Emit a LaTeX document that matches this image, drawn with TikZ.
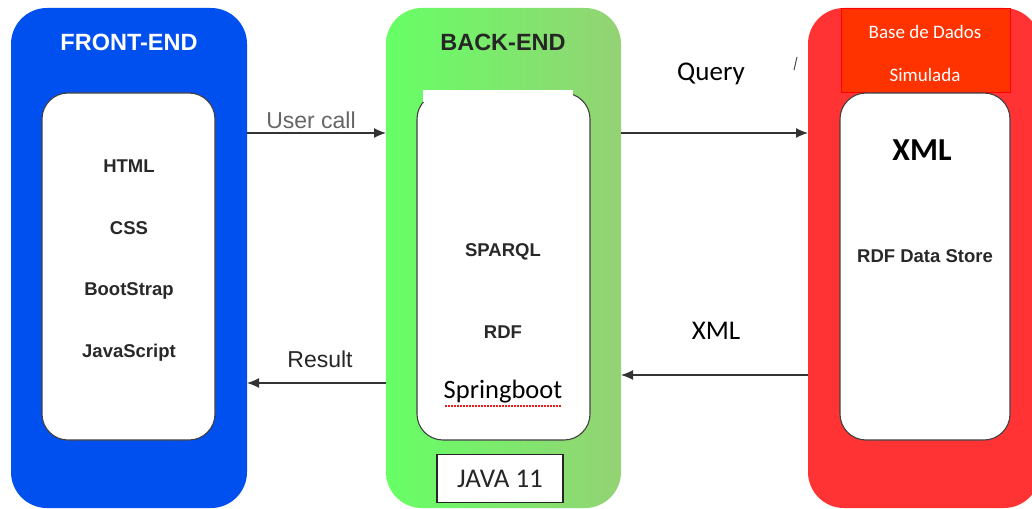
\documentclass[tikz,border=0pt]{standalone}
\usepackage{fontspec}
\setmainfont{Liberation Sans}
\newfontfamily\calib{Carlito}
\usetikzlibrary{arrows.meta}
\definecolor{feblue}{RGB}{0,80,239}
\definecolor{beleft}{RGB}{102,255,102}
\definecolor{beright}{RGB}{148,210,116}
\definecolor{dbred}{RGB}{255,51,51}
\definecolor{dbhead}{RGB}{255,51,0}
\definecolor{txt}{RGB}{40,40,40}
\definecolor{spell}{RGB}{230,30,30}
\tikzset{
  x=1pt, y=-1pt,
  tier/.style={rounded corners=36pt},
  panel/.style={fill=white, draw=black!75, line width=1.1pt, rounded corners=26pt},
  item/.style={font=\fontsize{18.5}{20}\selectfont\bfseries, text=txt},
  flow/.style={-{Latex[length=12pt,width=10pt]}, line width=1.3pt, draw=black!80},
  flowlbl/.style={font=\fontsize{23}{25}\selectfont},
  cal/.style={font=\calib\fontsize{27}{30}\selectfont, text=black}
}
\begin{document}
\begin{tikzpicture}
\useasboundingbox (0,0) rectangle (1032,508);
\fill[white] (0,0) rectangle (1032,508);

% front-end tier
\fill[feblue, tier] (11,8) rectangle (247,508);
\node[font=\fontsize{23.5}{25}\selectfont\bfseries, text=white] (fe) at (129,42) {FRONT-END};
\node[panel, minimum width=173pt, minimum height=347pt] (fep) at (128.5,266.5) {};
\node[item] (html) at (129,166) {HTML};
\node[item] (css) at (129,228) {CSS};
\node[item] (bs) at (129,291) {BootStrap};
\node[item] (js) at (129,353) {JavaScript};

% back-end tier
\shade[left color=beleft, right color=beright, tier] (386,8) rectangle (621,508);
\node[font=\fontsize{23.5}{25}\selectfont\bfseries, text=black!85] (be) at (503,42) {BACK-END};
\node[panel, minimum width=173pt, minimum height=347pt] (bep) at (503.5,266.5) {};
\fill[white] (423,90) rectangle (573,102);
\node[item] (sparql) at (503,252) {SPARQL};
\node[item] (rdf) at (503,332) {RDF};
\node[font=\calib\fontsize{26.5}{28}\selectfont, text=black] (sb) at (503,392) {Springboot};
\draw[spell, dash pattern=on 1.5pt off 1.5pt, line width=1.3pt] (445,406) -- (561,406);
\node[draw=black!85, line width=1.2pt, fill=white, minimum width=126pt, minimum height=48pt,
      font=\calib\fontsize{27}{29}\selectfont, text=black!85] (java) at (500,478.5) {JAVA 11};

% database tier
\fill[dbred, tier] (808,8) rectangle (1040,508);
\node[fill=dbhead, draw=red, line width=1pt, minimum width=169pt, minimum height=84pt] (head) at (925.5,51) {};
\node[font=\calib\fontsize{19}{21}\selectfont, text=white] (hd1) at (925,32) {Base de Dados};
\node[font=\calib\fontsize{19}{21}\selectfont, text=white] (hd2) at (925,75) {Simulada};
\node[panel, minimum width=170pt, minimum height=347pt] (dbp) at (925,266.5) {};
\node[font=\calib\fontsize{32}{34}\selectfont\bfseries, text=black] (xmlb) at (922,150) {XML};
\node[item] (store) at (925,256) {RDF Data Store};

% connectors
\coordinate (c1) at (247,133); \coordinate (c2) at (386,133);
\coordinate (c3) at (621,133); \coordinate (c4) at (808,133);
\coordinate (c5) at (808,375); \coordinate (c6) at (621,375);
\coordinate (c7) at (386,383); \coordinate (c8) at (247,383);
\draw[flow] (c1) -- (c2);
\draw[flow] (c3) -- (c4);
\draw[flow] (c5) -- (c6);
\draw[flow] (c7) -- (c8);
\node[flowlbl, text=black!60] (uc) at (311,120) {User call};
\node[flowlbl, text=black!85] (res) at (320,359) {Result};
\node[cal] (q) at (711,74) {Query};
\node[cal] (xr) at (716,331) {XML};
\draw[black!70, line width=1pt] (794,70) -- (797,57);
\end{tikzpicture}
\end{document}
